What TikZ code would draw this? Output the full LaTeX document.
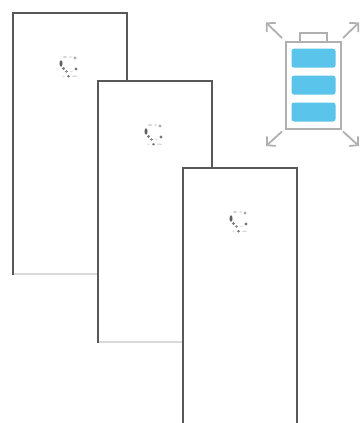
\documentclass[tikz,border=0pt]{standalone}
\usetikzlibrary{arrows.meta, positioning}
\definecolor{panelgray}{RGB}{88,88,88}
\definecolor{edgelight}{RGB}{218,218,218}
\definecolor{iconblue}{RGB}{90,196,234}
\definecolor{icongray}{RGB}{176,176,176}

\begin{document}
\begin{tikzpicture}[
    x=1pt, y=-1pt,
    panel/.style={rectangle, fill=white, minimum width=114pt, minimum height=261pt, inner sep=0pt, outer sep=0pt},
    panelline/.style={line width=1.8pt, panelgray, line cap=rect},
    lowline/.style={line width=1.8pt, edgelight},
    battbox/.style={rectangle, draw=icongray, line width=2pt, fill=white, minimum width=55pt, minimum height=87pt, inner sep=0pt},
    capbox/.style={rectangle, draw=icongray, line width=1.7pt, fill=white, minimum width=27pt, minimum height=9pt, inner sep=0pt},
    cellbox/.style={rectangle, rounded corners=2.5pt, fill=iconblue, minimum width=44pt, minimum height=19pt, inner sep=0pt},
    growarrow/.style={-{Straight Barb[length=6pt, width=13pt]}, line width=1.8pt, icongray},
    spindot/.style={fill=panelgray, opacity=#1, draw=none}
]
\useasboundingbox (0,0) rectangle (360,423);

% Panels
\node[panel, anchor=north west] (first) at (13,13) {};
\draw[lowline] (first.south west) -- (first.south east);
\draw[panelline] (first.south west) -- (first.north west) -- (first.north east) -- (first.south east);

\node[panel, anchor=north west] (second) at (98,81) {};
\draw[lowline] (second.south west) -- (second.south east);
\draw[panelline] (second.south west) -- (second.north west) -- (second.north east) -- (second.south east);

\node[panel, anchor=north west] (third) at (183,168) {};
\draw[panelline] (third.south west) -- (third.north west) -- (third.north east) -- (third.south east);

% Spinners
\foreach \pname in {first, second, third} {
  \coordinate (spin) at ([xshift=-1.5pt, yshift=-52pt]\pname.north);
  \foreach \dx/\dy/\rx/\ry/\op in {-7.5/-1.5/1.5/3.2/0.95, -5/3.5/1.6/1.6/0.75, -2/6.5/1.6/1.3/0.7, 7.5/4/1.6/1.6/0.8,
      6.5/-7/1.6/1.6/0.5, -3.5/-8/2/1/0.25, 2/-8/1.6/1/0.2, 0/11.3/1.5/1.3/0.8, -5/11.3/1.3/0.8/0.2, 6/11.3/2.6/0.9/0.2, 3/6.5/1.6/0.8/0.2} {
    \fill[spindot=\op] (spin) ++(\dx,\dy) ellipse[x radius=\rx pt, y radius=\ry pt];
  }
}

% Battery icon
\node[capbox, anchor=north west] (cap) at (299,32) {};
\node[battbox, anchor=north west] (battery) at (285,41) {};
\node[cellbox, anchor=north] (cellone) at ([yshift=-7.5pt]battery.north) {};
\node[cellbox, below=7.5pt of cellone] (celltwo) {};
\node[cellbox, below=7.5pt of celltwo] (cellthree) {};

% Growth arrows
\coordinate (nwtail) at (282,38);
\coordinate (netail) at (343,38);
\coordinate (swtail) at (282,131.5);
\coordinate (setail) at (343,131.5);
\coordinate (nwtip) at (266,22.5);
\coordinate (netip) at (359,22.5);
\coordinate (swtip) at (266,146);
\coordinate (setip) at (359,146);
\draw[growarrow] (nwtail) -- (nwtip);
\draw[growarrow] (netail) -- (netip);
\draw[growarrow] (swtail) -- (swtip);
\draw[growarrow] (setail) -- (setip);

\end{tikzpicture}
\end{document}
